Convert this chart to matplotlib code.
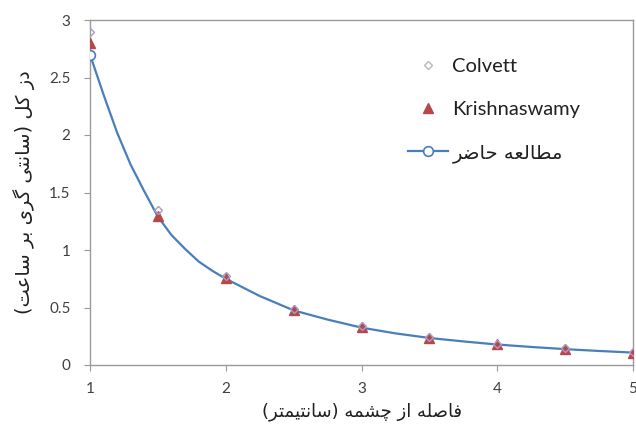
import numpy as np
import matplotlib
matplotlib.use("Agg")
import matplotlib.pyplot as plt
from matplotlib.lines import Line2D

# ---- data -------------------------------------------------------------
distance = [1.0, 1.5, 2.0, 2.5, 3.0, 3.5, 4.0, 4.5, 5.0]
colvett = [2.90, 1.35, 0.77, 0.49, 0.335, 0.245, 0.185, 0.145, 0.11]
krishnaswamy = [2.80, 1.30, 0.76, 0.48, 0.33, 0.235, 0.18, 0.14, 0.105]

# present study, finely sampled dose-rate curve
present_x = [1.0, 1.1, 1.2, 1.3, 1.4, 1.5, 1.6, 1.7, 1.8, 1.9, 2.0,
             2.25, 2.5, 2.75, 3.0, 3.25, 3.5, 3.75, 4.0, 4.25, 4.5,
             4.75, 5.0]
present_y = [2.70, 2.35, 2.02, 1.74, 1.51, 1.29, 1.13, 1.01, 0.90, 0.82,
             0.75, 0.60, 0.475, 0.395, 0.325, 0.275, 0.235, 0.205, 0.178,
             0.157, 0.138, 0.122, 0.108]

x_ticks = [1, 2, 3, 4, 5]
y_ticks = [0, 0.5, 1, 1.5, 2, 2.5, 3]
y_tick_labels = ["0", "0.5", "1", "1.5", "2", "2.5", "3"]

label_colvett = "Colvett"
label_krish = "Krishnaswamy"
label_present = "مطالعه حاضر"
x_title = "فاصله از چشمه (سانتیمتر)"
y_title = "دز کل (سانتی گری بر ساعت)"

# ---- minimal Arabic/Persian shaping (matplotlib has no text shaping) ---
# letter: (isolated, final, initial, medial); None for initial/medial
# means the letter only joins to the preceding one.
FORMS = {
    "ا": (0xFE8D, 0xFE8E, None, None),
    "ب": (0xFE8F, 0xFE90, 0xFE91, 0xFE92),
    "ت": (0xFE95, 0xFE96, 0xFE97, 0xFE98),
    "ح": (0xFEA1, 0xFEA2, 0xFEA3, 0xFEA4),
    "د": (0xFEA9, 0xFEAA, None, None),
    "ر": (0xFEAD, 0xFEAE, None, None),
    "ز": (0xFEAF, 0xFEB0, None, None),
    "س": (0xFEB1, 0xFEB2, 0xFEB3, 0xFEB4),
    "ش": (0xFEB5, 0xFEB6, 0xFEB7, 0xFEB8),
    "ص": (0xFEB9, 0xFEBA, 0xFEBB, 0xFEBC),
    "ض": (0xFEBD, 0xFEBE, 0xFEBF, 0xFEC0),
    "ط": (0xFEC1, 0xFEC2, 0xFEC3, 0xFEC4),
    "ع": (0xFEC9, 0xFECA, 0xFECB, 0xFECC),
    "ف": (0xFED1, 0xFED2, 0xFED3, 0xFED4),
    "ل": (0xFEDD, 0xFEDE, 0xFEDF, 0xFEE0),
    "م": (0xFEE1, 0xFEE2, 0xFEE3, 0xFEE4),
    "ن": (0xFEE5, 0xFEE6, 0xFEE7, 0xFEE8),
    "ه": (0xFEE9, 0xFEEA, 0xFEEB, 0xFEEC),
    "ک": (0xFB8E, 0xFB8F, 0xFB90, 0xFB91),
    "گ": (0xFB92, 0xFB93, 0xFB94, 0xFB95),
    "چ": (0xFB7A, 0xFB7B, 0xFB7C, 0xFB7D),
    "ی": (0xFBFC, 0xFBFD, 0xFBFE, 0xFBFF),
}
MIRROR = {"(": ")", ")": "("}


def shape_rtl(text):
    out = []
    n = len(text)
    for i, ch in enumerate(text):
        if ch not in FORMS:
            out.append(MIRROR.get(ch, ch))
            continue
        iso, fin, ini, med = FORMS[ch]
        prev = text[i - 1] if i > 0 else ""
        nxt = text[i + 1] if i + 1 < n else ""
        joins_prev = prev in FORMS and FORMS[prev][2] is not None
        joins_next = ini is not None and nxt in FORMS
        if joins_prev and joins_next:
            code = med
        elif joins_prev:
            code = fin
        elif joins_next:
            code = ini
        else:
            code = iso
        out.append(chr(code))
    return "".join(reversed(out))


# ---- figure -----------------------------------------------------------
plt.rcParams["font.family"] = ["Lato", "DejaVu Sans"]

fig = plt.figure(figsize=(6.36, 4.41), dpi=100)
ax = fig.add_axes([90 / 636, 76 / 441, 543 / 636, 345 / 441])

blue = "#4a7ebb"
red = "#b5484b"
lav = "#a99cc6"

ax.plot(present_x, present_y, color=blue, lw=1.6, zorder=2)
ax.plot(present_x[:1], present_y[:1], ls="none", marker="o", ms=7,
        mfc="white", mec=blue, mew=1.2, zorder=3)
ax.plot(distance, krishnaswamy, ls="none", marker="^", ms=7,
        color=red, zorder=4)
ax.plot(distance, colvett, ls="none", marker="D", ms=4.5,
        mfc="none", mec=lav, mew=1.0, zorder=5)

ax.set_xlim(1, 5)
ax.set_ylim(0, 3)
ax.set_xticks(x_ticks)
ax.set_xticklabels([str(t) for t in x_ticks])
ax.set_yticks(y_ticks)
ax.set_yticklabels(y_tick_labels)

for side in ["left", "bottom", "top", "right"]:
    ax.spines[side].set_color("#9a9a9a")
    ax.spines[side].set_linewidth(1.0)
ax.tick_params(axis="both", direction="out", length=4, width=0.8,
               color="#9a9a9a", labelsize=11, labelcolor="#404040")
ax.tick_params(axis="y", pad=10)
ax.tick_params(axis="x", pad=8)

ax.set_xlabel(shape_rtl(x_title), family="DejaVu Sans", fontsize=13,
              color="#202020", labelpad=5)
ax.set_ylabel(shape_rtl(y_title), family="DejaVu Sans", fontsize=14,
              color="#202020", labelpad=10)

handles = [
    Line2D([], [], ls="none", marker="D", ms=4.5, mfc="none", mec="#b8b8b8",
           mew=1.0),
    Line2D([], [], ls="none", marker="^", ms=7, color=red),
    Line2D([], [], color=blue, lw=1.6, marker="o", ms=7, mfc="white",
           mec=blue, mew=1.2),
]
labels = [label_colvett, label_krish, shape_rtl(label_present)]
leg = ax.legend(handles, labels, loc="upper left",
                bbox_to_anchor=((400 - 90) / 543, (365 - 50) / 345),
                frameon=False, fontsize=14.5, handlelength=2.0,
                handletextpad=0.2, labelspacing=1.27, borderaxespad=0)
for t in leg.get_texts():
    t.set_color("#202020")
leg.get_texts()[2].set_family("DejaVu Sans")
leg.get_texts()[2].set_fontsize(14)

fig.savefig("out.png", dpi=100, facecolor="white")
